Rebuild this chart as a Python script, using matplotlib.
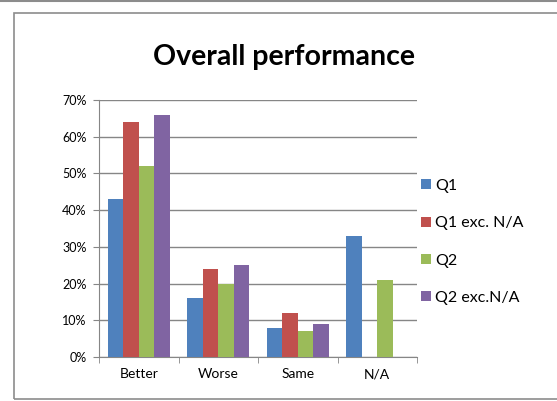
import numpy as np
import matplotlib
matplotlib.use("Agg")
import matplotlib.pyplot as plt
from matplotlib.patches import Patch, Rectangle

categories = ["Better", "Worse", "Same", "N/A"]
series_names = ["Q1", "Q1 exc. N/A", "Q2", "Q2 exc.N/A"]
q1 = [43, 16, 8, 33]
q1_exc = [64, 24, 12, 0]
q2 = [52, 20, 7, 21]
q2_exc = [66, 25, 9, 0]
y_ticks = [0, 10, 20, 30, 40, 50, 60, 70]

colors = ["#4F81BD", "#C0504D", "#9BBB59", "#8064A2"]
grid_col = "#868686"

plt.rcParams['font.family'] = ['Lato', 'DejaVu Sans']

W, H = 557, 401
fig = plt.figure(figsize=(W / 100, H / 100), dpi=100)

# outer chart frame and the line above it
fig.patches.append(Rectangle((14 / W, 1 - 399 / H), 1.0, (399 - 13) / H,
                             transform=fig.transFigure, fill=False,
                             edgecolor="#8c8c8c", linewidth=1.2))
fig.add_artist(plt.Line2D([0, 1], [1 - 1 / H, 1 - 1 / H], transform=fig.transFigure,
                          color="#8c8c8c", linewidth=1.5))

ax = fig.add_axes([99 / W, (H - 357) / H, (417 - 99) / W, (357 - 100) / H])

x = np.arange(len(categories))
width = 0.195
all_series = [q1, q1_exc, q2, q2_exc]
for i, (vals, col) in enumerate(zip(all_series, colors)):
    ax.bar(x + (i - 1.5) * width, vals, width, color=col, zorder=3)

ax.set_xlim(-0.5, len(categories) - 0.5)
ax.set_ylim(0, 70)
ax.set_yticks(y_ticks)
ax.set_yticklabels([f"{t}%" for t in y_ticks], fontsize=9)
ax.yaxis.grid(True, color=grid_col, linewidth=1, zorder=0)
ax.set_xticks(x)
ax.set_xticklabels(categories, fontsize=10)
ax.tick_params(axis='x', length=0, pad=8)
ax.set_xticks(np.arange(-0.5, len(categories)), minor=True)
ax.tick_params(axis='x', which='minor', length=4, color=grid_col)
ax.tick_params(axis='y', length=4, color=grid_col, pad=5)

for side in ["top", "right"]:
    ax.spines[side].set_visible(False)
ax.spines["left"].set_color(grid_col)
ax.spines["bottom"].set_color(grid_col)

fig.text(284 / W, 1 - 57 / H, "Overall performance", ha="center", va="center",
         fontsize=20.5, fontweight="bold")

handles = [Patch(facecolor=c, edgecolor="none") for c in colors]
fig.legend(handles, series_names, loc="center left", bbox_to_anchor=(421 / W, 1 - 242 / H),
           frameon=False, fontsize=11.5, handlelength=0.6, handleheight=0.6,
           handletextpad=0.3, labelspacing=1.46, borderaxespad=0, borderpad=0)

fig.savefig("out.png", dpi=100)
